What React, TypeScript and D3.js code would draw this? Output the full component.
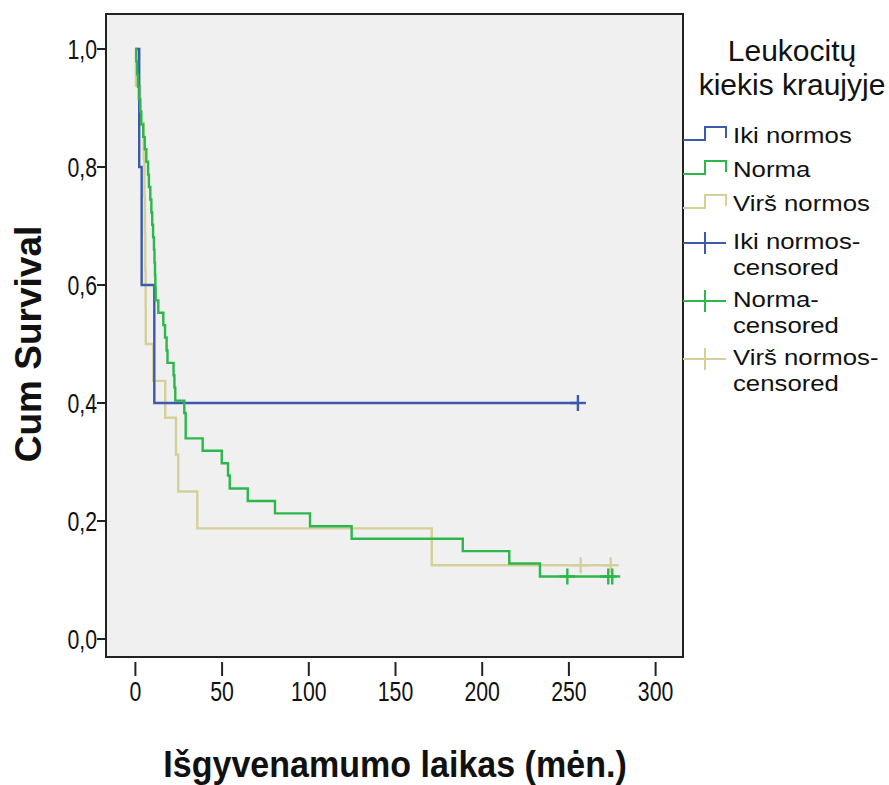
import React from "react";
import * as d3 from "d3";

// ---- Data ----
const ikiTimes = [0, 2.2, 3.6, 10.9];
const ikiSurv = [1.0, 0.8, 0.6, 0.4];
const ikiEnd = 255.2;
const ikiCensored = [255.2];

const normaTimes = [0, 0.5, 1, 1.5, 2, 2.8, 3.4, 4.5, 5.4, 6.3, 7.3, 7.8, 8.6, 9.2, 9.7, 10.2, 10.7, 11.0, 11.3, 11.5, 11.7, 13.2, 16.1, 17.1, 18.0, 18.5, 22.0, 22.5, 23.0, 28.2, 29.0, 38.8, 49.8, 53.4, 54.4, 64.8, 80.5, 100.7, 124.7, 188.8, 215.6, 233.3];
const normaSurv = [1.0, 0.979, 0.957, 0.936, 0.915, 0.894, 0.872, 0.851, 0.83, 0.809, 0.787, 0.766, 0.745, 0.723, 0.702, 0.681, 0.66, 0.638, 0.617, 0.596, 0.574, 0.553, 0.532, 0.511, 0.489, 0.468, 0.447, 0.426, 0.404, 0.383, 0.34, 0.319, 0.298, 0.277, 0.255, 0.234, 0.213, 0.191, 0.17, 0.149, 0.128, 0.106];
const normaEnd = 275.0;
const normaCensored = [249.1, 272.7, 275.0];

const virsTimes = [0, 0.3, 2.8, 4.8, 5.2, 5.5, 5.7, 5.9, 6.0, 10.3, 17.2, 23.4, 24.7, 35.7, 170.9];
const virsSurv = [1.0, 0.9375, 0.875, 0.8125, 0.75, 0.6875, 0.625, 0.5625, 0.5, 0.4375, 0.375, 0.3125, 0.25, 0.1875, 0.125];
const virsEnd = 274.1;
const virsCensored = [256.8, 274.1];

const xTicks = [0, 50, 100, 150, 200, 250, 300];
const yTicks = [0, 0.2, 0.4, 0.6, 0.8, 1.0];
const yTickLabels = ["0,0", "0,2", "0,4", "0,6", "0,8", "1,0"];

const groupNames = ["Iki normos", "Norma", "Virš normos"];
const groupColors = ["#3C5AAD", "#2CB74A", "#D5CF98"];
const legendTitle = ["Leukocitų", "kiekis kraujyje"];
const censoredLabels = [["Iki normos-", "censored"], ["Norma-", "censored"], ["Virš normos-", "censored"]];
const xTitle = "Išgyvenamumo laikas (mėn.)";
const yTitle = "Cum Survival";

export default function App() {
  const W = 889, H = 785;
  const plot = { x0: 106, x1: 683, y0: 14, y1: 657 };
  const x = d3.scaleLinear().domain([0, 300]).range([135.4, 655.6]);
  const y = d3.scaleLinear().domain([0, 1]).range([639, 49]);

  const groups = [
    { t: ikiTimes, s: ikiSurv, end: ikiEnd, c: ikiCensored },
    { t: normaTimes, s: normaSurv, end: normaEnd, c: normaCensored },
    { t: virsTimes, s: virsSurv, end: virsEnd, c: virsCensored },
  ];

  const line = d3
    .line<[number, number]>()
    .x((d) => x(d[0]))
    .y((d) => y(d[1]))
    .curve(d3.curveStepAfter);

  const font = "'Liberation Sans', Arial, sans-serif";
  const tickSize = 28;
  const tickScale = 0.76;

  const order = [2, 0, 1];

  const legendX = 683;
  const itemBaselines = [143, 177, 211];
  const censBaselines = [249, 307, 365];
  const legendFont = 23;
  const legendScale = 1.12;

  return (
    <svg width={W} height={H} style={{ position: "absolute", left: 0, top: 0, background: "#fff" }}>
      <rect x={0} y={0} width={W} height={H} fill="#fff" />
      <rect x={plot.x0} y={plot.y0} width={plot.x1 - plot.x0} height={plot.y1 - plot.y0} fill="#F0F0F0" stroke="#222" strokeWidth={2} />

      {order.map((gi) => {
        const g = groups[gi];
        const pts: [number, number][] = g.t.map((t, i) => [t, g.s[i]] as [number, number]);
        pts.push([g.end, g.s[g.s.length - 1]]);
        return (
          <path key={"l" + gi} d={line(pts) || ""} fill="none" stroke={groupColors[gi]} strokeWidth={2.4} />
        );
      })}
      {order.map((gi) => {
        const g = groups[gi];
        const sv = g.s[g.s.length - 1];
        return g.c.map((ct, j) => (
          <g key={"c" + gi + "-" + j} stroke={groupColors[gi]} strokeWidth={2.4}>
            <line x1={x(ct) - 8} x2={x(ct) + 8} y1={y(sv)} y2={y(sv)} />
            <line x1={x(ct)} x2={x(ct)} y1={y(sv) - 8} y2={y(sv) + 8} />
          </g>
        ));
      })}

      {yTicks.map((v, i) => (
        <g key={"yt" + i}>
          <line x1={plot.x0 - 9} x2={plot.x0} y1={y(v)} y2={y(v)} stroke="#222" strokeWidth={2} />
          <text transform={`translate(${plot.x0 - 9},${y(v) + 10}) scale(${tickScale},1)`} textAnchor="end" fontFamily={font} fontSize={tickSize} fill="#111">
            {yTickLabels[i]}
          </text>
        </g>
      ))}
      {xTicks.map((v) => (
        <g key={"xt" + v}>
          <line x1={x(v)} x2={x(v)} y1={plot.y1 + 5} y2={plot.y1 + 19} stroke="#222" strokeWidth={2} />
          <text transform={`translate(${x(v)},${plot.y1 + 44}) scale(${tickScale},1)`} textAnchor="middle" fontFamily={font} fontSize={tickSize} fill="#111">
            {v}
          </text>
        </g>
      ))}

      <text transform={`translate(395,777) scale(0.92,1)`} textAnchor="middle" fontFamily={font} fontWeight="bold" fontSize={37} fill="#111">
        {xTitle}
      </text>
      <text transform={`translate(41,344) rotate(-90)`} textAnchor="middle" fontFamily={font} fontWeight="bold" fontSize={37} fill="#111">
        {yTitle}
      </text>

      {legendTitle.map((t, i) => (
        <text key={"lt" + i} x={792} y={61 + i * 34} textAnchor="middle" fontFamily={font} fontSize={30} fill="#111">
          {t}
        </text>
      ))}
      {groupNames.map((n, i) => {
        const b = itemBaselines[i];
        const lo = b - 3, hi = b - 16;
        return (
          <g key={"li" + i}>
            <path d={`M${legendX},${lo}H${legendX + 22}V${hi}H${legendX + 43}V${lo - 2}`} fill="none" stroke={groupColors[i]} strokeWidth={2} />
            <text transform={`translate(733,${b}) scale(${legendScale},1)`} fontFamily={font} fontSize={legendFont} fill="#111">{n}</text>
          </g>
        );
      })}
      {censoredLabels.map((lab, i) => {
        const b1 = censBaselines[i];
        const cy = b1 - 6;
        return (
          <g key={"lc" + i}>
            <line x1={legendX} x2={legendX + 43} y1={cy} y2={cy} stroke={groupColors[i]} strokeWidth={2} />
            <line x1={legendX + 22} x2={legendX + 22} y1={cy - 11} y2={cy + 11} stroke={groupColors[i]} strokeWidth={2} />
            <text transform={`translate(733,${b1}) scale(${legendScale},1)`} fontFamily={font} fontSize={legendFont} fill="#111">{lab[0]}</text>
            <text transform={`translate(733,${b1 + 26}) scale(${legendScale},1)`} fontFamily={font} fontSize={legendFont} fill="#111">{lab[1]}</text>
          </g>
        );
      })}
    </svg>
  );
}
